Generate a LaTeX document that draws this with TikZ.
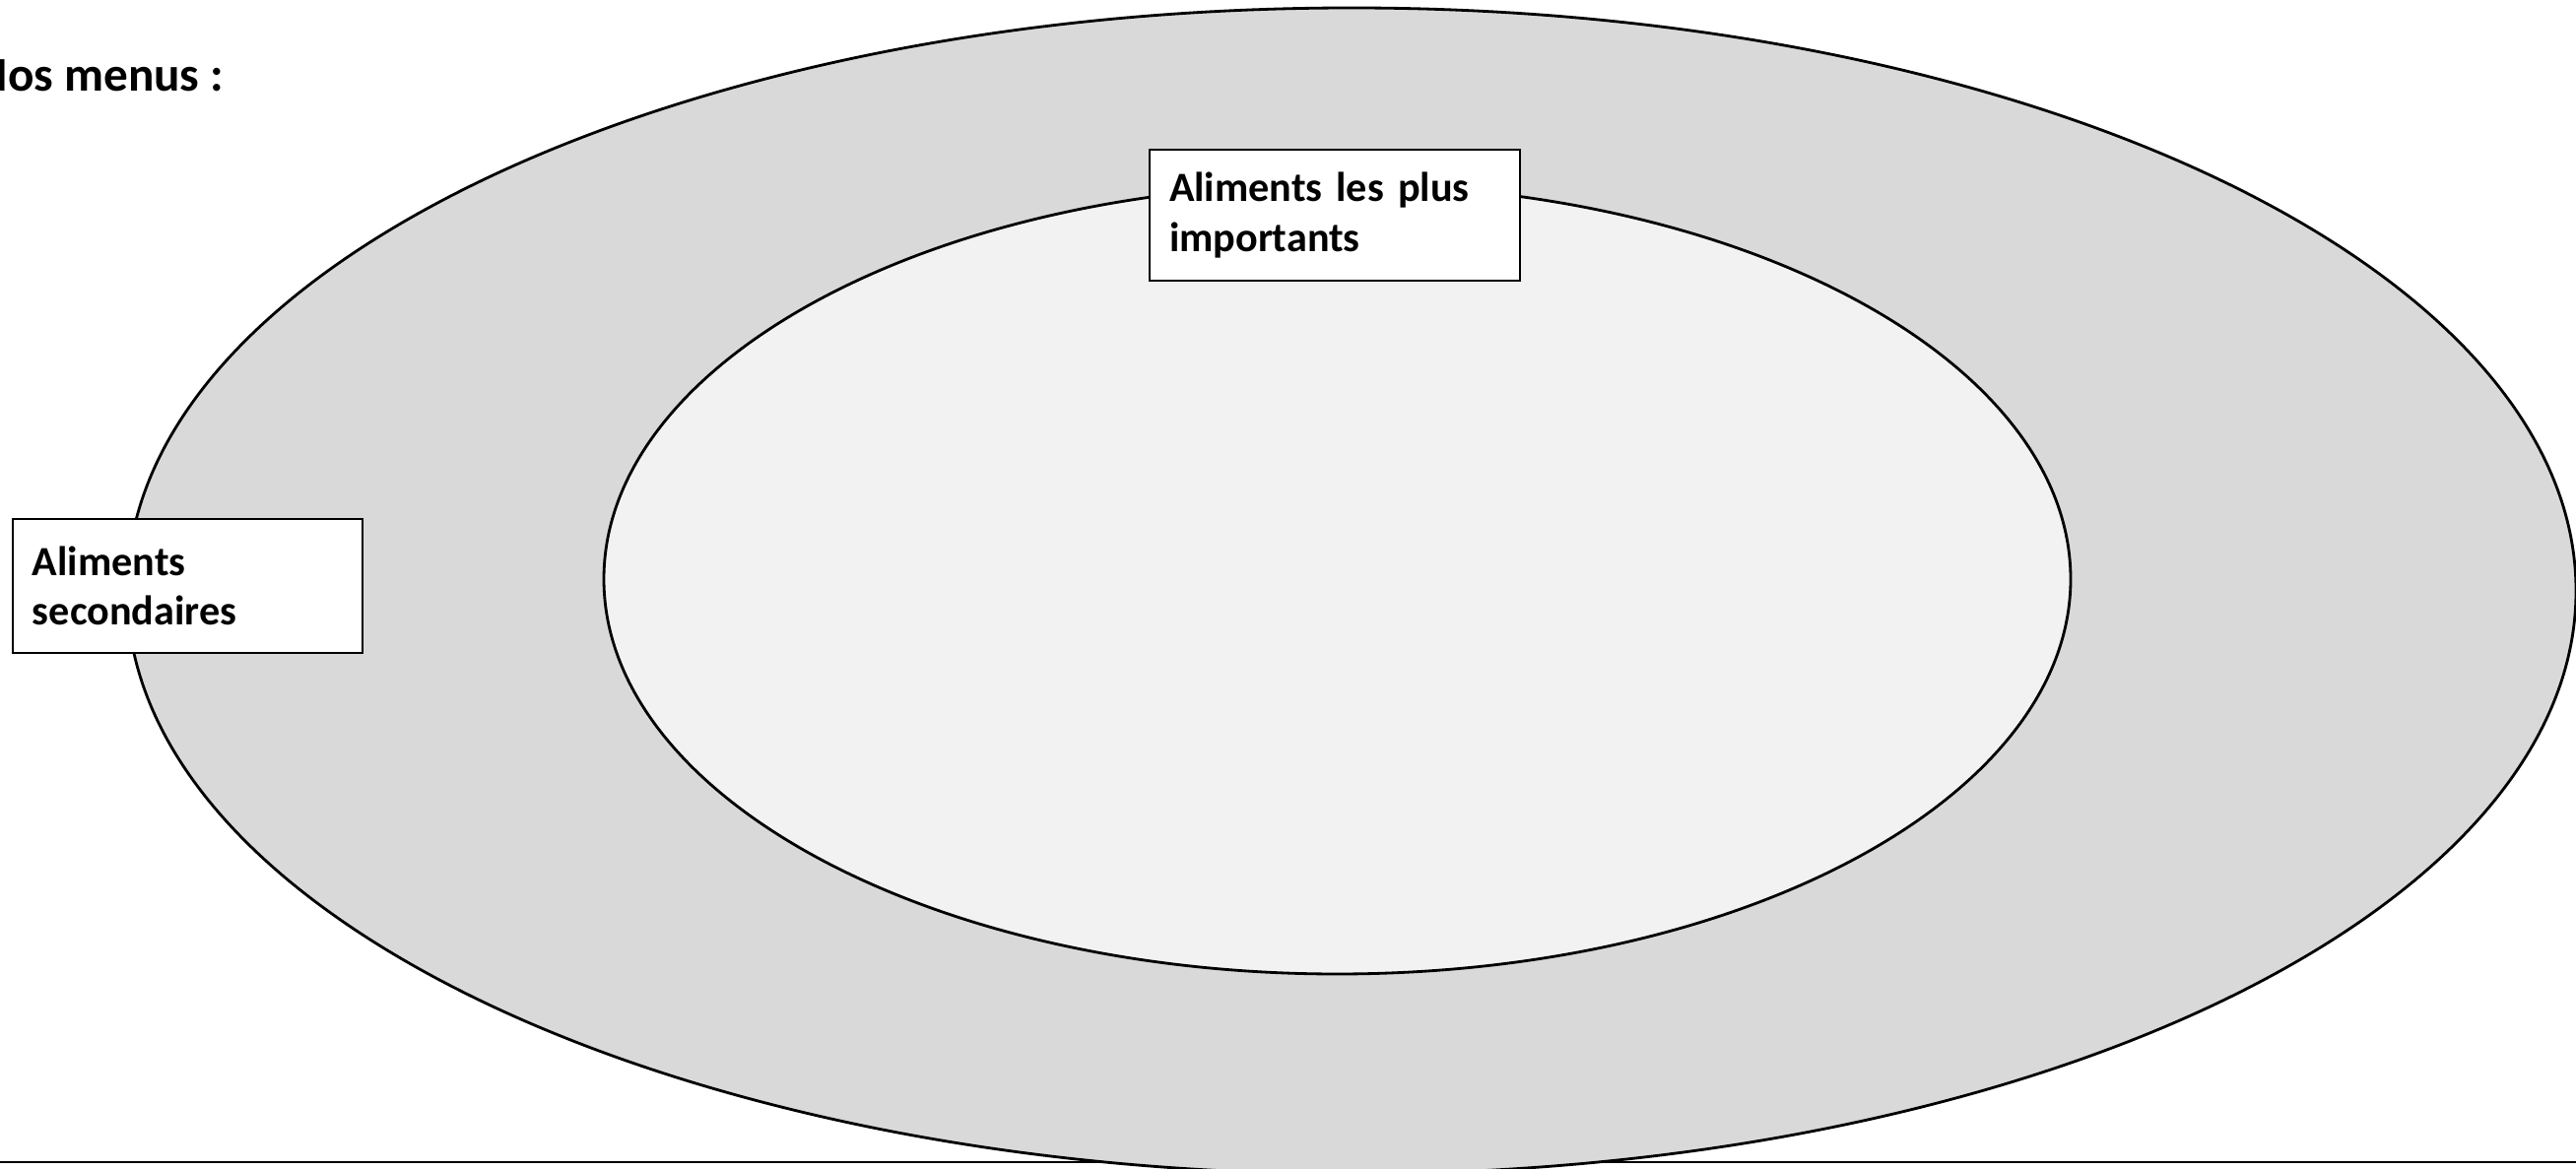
\documentclass[tikz,border=0pt]{standalone}
\usepackage{fontspec}
\setmainfont{Carlito}
\usepackage{tikz}
\usetikzlibrary{positioning}
\definecolor{platecolor}{RGB}{217,217,217}
\definecolor{innercolor}{RGB}{242,242,242}

\begin{document}
\begin{tikzpicture}[
    label box/.style={draw=black, line width=0.8pt, fill=white, inner xsep=0.2cm, inner ysep=0pt, align=left, font=\fontsize{12}{14.3}\selectfont\bfseries},
    plate/.style={draw=black, line width=0.8pt}
]
    \useasboundingbox (0,0) rectangle (26.15,11.86);

    % Table line
    \coordinate (rule-l) at (0,0.06);
    \coordinate (rule-r) at (26.15,0.06);
    \draw[line width=0.8pt] (rule-l) -- (rule-r);

    % Plates
    \draw[plate, fill=platecolor] (13.72,5.86) ellipse (12.43 and 5.92);
    \draw[plate, fill=innercolor] (13.575,5.98) ellipse (7.445 and 4.01);

    % Title
    \node[anchor=base west, inner sep=0pt, font=\fontsize{14}{16}\selectfont\bfseries] (title) at (-0.25,10.93) {Nos menus :};

    % Labels
    \node[label box, text width=3.36cm, minimum height=1.33cm] (main) at (13.55,9.675) {Aliments les plus\\importants};
    \node[label box, text width=3.15cm, minimum height=1.36cm] (side) at (1.905,5.91) {Aliments\\secondaires};
\end{tikzpicture}
\end{document}
